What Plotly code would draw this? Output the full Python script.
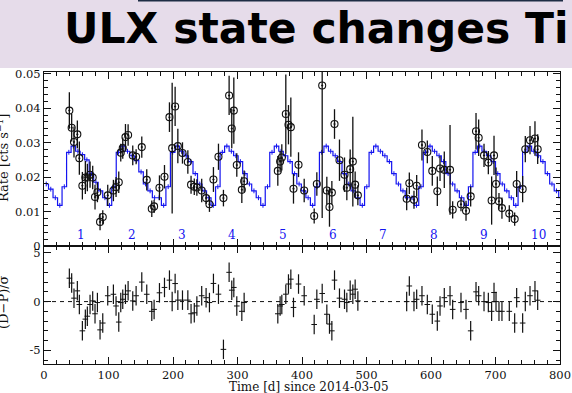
import plotly.graph_objects as go

W, H = 572, 393

# ---------------- data ----------------
t_days = [39.3, 42.9, 46.5, 51.7, 54.8, 59.5, 64.1, 67.2, 71.4, 75.5, 79.1, 82.8, 86.9, 91.1, 98.8,
          107.6, 111.7, 115.9, 119.0, 122.1, 126.3, 130.4, 137.6, 142.8, 151.6, 159.3, 167.1, 170.7,
          179.0, 186.8, 194.5, 198.7, 203.3, 207.5, 214.7, 223.0, 228.0, 233.0, 237.0,
          244.5, 251.3, 256.5, 262.7, 270.5, 278.2, 287.0, 291.1, 294.3, 298.9, 306.7, 310.3,
          362.5, 366.1, 368.7, 374.9, 379.0, 382.7, 386.8, 394.6, 403.4, 418.9, 423.0, 431.3,
          438.5, 442.6, 446.3, 450.4, 458.1, 465.9, 469.5, 474.7, 478.8, 482.4, 486.6,
          562.3, 566.4, 573.6, 577.8, 586.0, 594.3, 602.0, 609.8, 614.0, 620.6, 629.5, 633.6,
          646.5, 654.3, 661.5, 669.8, 673.9, 682.2, 688.9, 694.0, 697.7, 700.8, 705.4, 710.0,
          721.4, 729.7, 732.8, 742.1, 746.2, 753.5, 761.2, 765.4]

rate = [0.0393, 0.0343, 0.0302, 0.0324, 0.0255, 0.0175, 0.0199, 0.0199, 0.0207, 0.0199, 0.0142,
        0.0156, 0.0070, 0.0084, 0.0147, 0.0161, 0.0171, 0.0185, 0.0271, 0.0284, 0.0316, 0.0322,
        0.0263, 0.0259, 0.0287, 0.0192, 0.0108, 0.0115, 0.0169, 0.0201, 0.0374, 0.0284, 0.0405,
        0.0290, 0.0270, 0.0244, 0.0178, 0.0172, 0.0170,
        0.0161, 0.0139, 0.0121, 0.0193, 0.0259, 0.0139, 0.0437, 0.0341, 0.0393, 0.0235, 0.0163,
        0.0188, 0.0218, 0.0245, 0.0257, 0.0383, 0.0352, 0.0345, 0.0166, 0.0236, 0.0161, 0.0087,
        0.0180, 0.0466, 0.0161, 0.0113, 0.0155, 0.0354, 0.0249, 0.0207, 0.0169, 0.0223, 0.0245,
        0.0178, 0.0147,
        0.0137, 0.0182, 0.0134, 0.0175, 0.0293, 0.0273, 0.0218, 0.0159, 0.0225, 0.0221, 0.0221,
        0.0105, 0.0121, 0.0102, 0.0144, 0.0333, 0.0314, 0.0263, 0.0242, 0.0132, 0.0263, 0.0180,
        0.0130, 0.0110, 0.0094, 0.0078, 0.0180, 0.0165, 0.0281, 0.0307, 0.0312, 0.0281]

rate_err = [0.0053, 0.0040, 0.0045, 0.0040, 0.0048, 0.0040, 0.0048, 0.0040, 0.0038, 0.0034, 0.0036,
            0.0029, 0.0024, 0.0020, 0.0031, 0.0031, 0.0029, 0.0031, 0.0026, 0.0031, 0.0038, 0.0031,
            0.0029, 0.0022, 0.0031, 0.0031, 0.0024, 0.0019, 0.0036, 0.0034, 0.0043, 0.0190, 0.0057,
            0.0050, 0.0031, 0.0034, 0.0026, 0.0024, 0.0024,
            0.0034, 0.0017, 0.0022, 0.0036, 0.0038, 0.0024, 0.0057, 0.0057, 0.0096, 0.0034, 0.0038,
            0.0031, 0.0043, 0.0031, 0.0038, 0.0115, 0.0057, 0.0086, 0.0043, 0.0036, 0.0034, 0.0022,
            0.0034, 0.0385, 0.0040, 0.0057, 0.0034, 0.0043, 0.0060, 0.0050, 0.0036, 0.0057, 0.0130,
            0.0038, 0.0029,
            0.0033, 0.0031, 0.0026, 0.0031, 0.0045, 0.0033, 0.0043, 0.0043, 0.0036, 0.0053, 0.0130,
            0.0025, 0.0020, 0.0029, 0.0029, 0.0053, 0.0053, 0.0034, 0.0034, 0.0070, 0.0057, 0.0048,
            0.0024, 0.0031, 0.0024, 0.0019, 0.0038, 0.0038, 0.0038, 0.0041, 0.0050, 0.0043]

resid = [2.4, 1.9, 0.35, 1.1, -0.3, -3.0, -1.8, -1.5, -0.3, 0.07, -1.25, -0.1, -2.9, -2.2, 0.6,
         0.75, -0.45, -2.1, -0.1, 0.24, 0.75, 1.1, 0.07, 0.6, 2.0, 0.75, -1.0, -0.8, 0.9, 1.45,
         2.2, 0.0, 1.85, 0.15, 0.15, 0.15, -1.25, -1.15, -0.45,
         0.6, 0.4, -0.1, 1.86, 0.76, -4.9, 3.0, 1.17, 1.45, -0.45, -1.0, -0.1,
         -1.25, -0.45, -0.3, 0.76, 1.8, 2.3, -0.6, 1.8, 0.6, -2.35, 0.24, 0.83,
         -1.3, -2.3, -3.0, 2.2, 0.35, 0.24, -0.1, 1.17, 0.76, 1.27, 0.07,
         0.0, 1.6, 0.0, 0.24, 0.6, -0.3, -1.3, -2.0, -0.45, 0.4, 0.6, -0.8,
         -0.1, -0.8, -3.0, 1.0, 0.6, 0.0, -0.1, -1.0, 0.93, 0.0, -1.0, -1.0,
         -1.0, -2.2, 0.4, -2.2, 0.0, 0.6, 1.1, 0.14]
resid_err = [1.0] * len(resid)

# periodic model (step histogram), 7-day bins
model_t = [3.5, 10.5, 17.5, 24.5, 31.5, 38.5, 45.5, 52.5, 59.5, 66.5, 73.5, 80.5, 87.5, 94.5,
           101.5, 108.5, 115.5, 122.5, 129.5, 136.5, 143.5, 150.5, 157.5, 164.5, 171.5, 178.5,
           185.5, 192.5, 199.5, 206.5, 213.5, 220.5, 227.5, 234.5, 241.5, 248.5, 255.5, 262.5,
           269.5, 276.5, 283.5, 290.5, 297.5, 304.5, 311.5, 318.5, 325.5, 332.5, 339.5, 346.5,
           353.5, 360.5, 367.5, 374.5, 381.5, 388.5, 395.5, 402.5, 409.5, 416.5, 423.5, 430.5,
           437.5, 444.5, 451.5, 458.5, 465.5, 472.5, 479.5, 486.5, 493.5, 500.5, 507.5, 514.5,
           521.5, 528.5, 535.5, 542.5, 549.5, 556.5, 563.5, 570.5, 577.5, 584.5, 591.5, 598.5,
           605.5, 612.5, 619.5, 626.5, 633.5, 640.5, 647.5, 654.5, 661.5, 668.5, 675.5, 682.5,
           689.5, 696.5, 703.5, 710.5, 717.5, 724.5, 731.5, 738.5, 745.5, 752.5, 759.5, 766.5,
           773.5, 780.5, 787.5, 794.5, 801.5]
model_rate = [0.0180, 0.0165, 0.0140, 0.0118, 0.0172, 0.0272, 0.0290, 0.0275, 0.0265, 0.0250,
              0.0210, 0.0185, 0.0160, 0.0140, 0.0118, 0.0172, 0.0272, 0.0290, 0.0275, 0.0262,
              0.0248, 0.0215, 0.0180, 0.0160, 0.0140, 0.0140, 0.0118, 0.0172, 0.0272, 0.0290,
              0.0275, 0.0262, 0.0245, 0.0210, 0.0180, 0.0160, 0.0140, 0.0118, 0.0172, 0.0272,
              0.0290, 0.0275, 0.0262, 0.0245, 0.0210, 0.0180, 0.0160, 0.0140, 0.0118, 0.0172,
              0.0272, 0.0290, 0.0275, 0.0262, 0.0245, 0.0210, 0.0180, 0.0160, 0.0140, 0.0118,
              0.0172, 0.0272, 0.0290, 0.0275, 0.0262, 0.0245, 0.0210, 0.0180, 0.0160, 0.0140,
              0.0118, 0.0172, 0.0272, 0.0290, 0.0275, 0.0262, 0.0245, 0.0210, 0.0180, 0.0160,
              0.0140, 0.0140, 0.0118, 0.0172, 0.0272, 0.0290, 0.0275, 0.0262, 0.0245, 0.0210,
              0.0180, 0.0160, 0.0140, 0.0118, 0.0172, 0.0272, 0.0290, 0.0275, 0.0262, 0.0245,
              0.0210, 0.0180, 0.0160, 0.0140, 0.0118, 0.0172, 0.0272, 0.0290, 0.0275, 0.0262,
              0.0245, 0.0210, 0.0180, 0.0160, 0.0140]

cycle_labels = ["1", "2", "3", "4", "5", "6", "7", "8", "9", "10"]
cycle_label_t = [57, 137, 214, 292, 370, 448, 526, 605, 682, 766]

x_ticks = [0, 100, 200, 300, 400, 500, 600, 700, 800]
rate_ticks = [0, 0.01, 0.02, 0.03, 0.04, 0.05]
rate_tick_text = ["0", "0.01", "0.02", "0.03", "0.04", "0.05"]
resid_ticks = [-5, 0, 5]
resid_tick_text = ["-5", "0", "5"]

title_text = "ULX state changes Ti"
x_title = "Time [d] since 2014-03-05"
y1_title = "Rate [cts s<sup>−1</sup>]"
y2_title = "(D−P)/σ"

# ---------------- styling ----------------
BLUE = "#1414f0"
BLACK = "#111111"
SERIF = "DejaVu Serif"
LAV = "#e6dcea"

def px_x(p):
    return p / W

def px_y(p):
    return 1 - p / H

fig = go.Figure()

fig.add_trace(go.Scatter(
    x=model_t, y=model_rate, mode="lines", line=dict(color=BLUE, width=1.2, shape="hvh"),
    error_y=dict(type="constant", value=0.0007, color=BLUE, thickness=1, width=0),
    xaxis="x", yaxis="y", showlegend=False, hoverinfo="skip"))

fig.add_trace(go.Scatter(
    x=t_days, y=rate, mode="markers",
    marker=dict(symbol="circle-open-dot", size=7, color=BLACK, line=dict(width=1.1, color=BLACK)),
    error_y=dict(type="data", array=rate_err, color=BLACK, thickness=1.3, width=0),
    xaxis="x", yaxis="y", showlegend=False, cliponaxis=True))

fig.add_trace(go.Scatter(
    x=t_days, y=resid, mode="markers",
    marker=dict(symbol="line-ew-open", size=4, color=BLACK, line=dict(width=1, color=BLACK)),
    error_y=dict(type="data", array=resid_err, color=BLACK, thickness=1.2, width=0),
    xaxis="x2", yaxis="y2", showlegend=False))

xdom = [px_x(44), px_x(560)]
ax_common = dict(showline=True, linecolor=BLACK, linewidth=1, mirror="ticks", ticks="inside",
                 tickcolor=BLACK, ticklen=7, tickwidth=1, showgrid=False, zeroline=False,
                 automargin=False,
                 tickfont=dict(family=SERIF, size=11.5, color=BLACK))

fig.update_layout(
    width=W, height=H, margin=dict(l=0, r=0, t=0, b=0, autoexpand=False), autosize=False,
    paper_bgcolor="white", plot_bgcolor="white",
    xaxis=dict(domain=xdom, range=[0, 800], anchor="y", tickvals=x_ticks, showticklabels=False,
               minor=dict(dtick=20, ticklen=4, ticks="inside", tickcolor=BLACK), **ax_common),
    yaxis=dict(domain=[px_y(246), px_y(72)], range=[0, 0.0505], anchor="x",
               tickvals=rate_ticks, ticktext=rate_tick_text,
               minor=dict(dtick=0.002, ticklen=4, ticks="inside", tickcolor=BLACK), **ax_common),
    xaxis2=dict(domain=xdom, range=[0, 800], anchor="y2", tickvals=x_ticks,
                minor=dict(dtick=20, ticklen=4, ticks="inside", tickcolor=BLACK), **ax_common),
    yaxis2=dict(domain=[px_y(364), px_y(246)], range=[-6.4, 5.7], anchor="x2",
                tickvals=resid_ticks, ticktext=resid_tick_text,
                minor=dict(dtick=1, ticklen=4, ticks="inside", tickcolor=BLACK), **ax_common),
)

shapes = [
    dict(type="rect", xref="paper", yref="paper", x0=0, x1=1, y0=px_y(68), y1=1,
         fillcolor=LAV, line=dict(width=0), layer="below"),
    dict(type="rect", xref="paper", yref="paper", x0=px_x(138), x1=px_x(563), y0=px_y(1.5), y1=1,
         fillcolor="#1d2c44", line=dict(width=0), layer="above"),
    dict(type="line", xref="x2 domain", yref="y2", x0=0, x1=1, y0=0, y1=0,
         line=dict(color=BLACK, width=1, dash="4px,4px")),
]
fig.update_layout(shapes=shapes)

annotations = [
    dict(text=f"<b>{title_text}</b>", xref="paper", yref="paper", x=px_x(62), y=px_y(28.5),
         xanchor="left", yanchor="middle", showarrow=False,
         font=dict(family="DejaVu Sans", size=42.5, color="black")),
    dict(text=x_title, xref="paper", yref="paper", x=px_x(309), y=px_y(387),
         xanchor="center", yanchor="middle", showarrow=False,
         font=dict(family=SERIF, size=12, color=BLACK)),
    dict(text=y1_title, xref="paper", yref="paper", x=px_x(3), y=px_y(158),
         xanchor="center", yanchor="middle", showarrow=False, textangle=-90,
         font=dict(family=SERIF, size=13, color=BLACK)),
    dict(text=y2_title, xref="paper", yref="paper", x=px_x(3), y=px_y(302),
         xanchor="center", yanchor="middle", showarrow=False, textangle=-90,
         font=dict(family=SERIF, size=13, color=BLACK)),
]
for lab, tx in zip(cycle_labels, cycle_label_t):
    annotations.append(dict(text=lab, x=tx, y=0.0032, xref="x", yref="y", showarrow=False,
                            xanchor="center", yanchor="middle",
                            font=dict(family=SERIF, size=12, color=BLUE)))
fig.update_layout(annotations=annotations)

fig.write_html("out.html")
